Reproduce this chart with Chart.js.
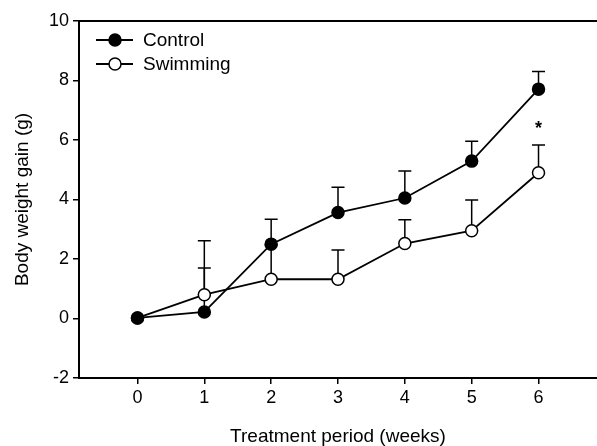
<!DOCTYPE html>
<html>
<head>
<meta charset="utf-8">
<script src="https://cdn.jsdelivr.net/npm/chart.js@4/dist/chart.umd.min.js"></script>
<style>
  html, body { margin: 0; padding: 0; background: #fff; overflow: hidden; }
</style>
</head>
<body>
<canvas id="grafico" width="597" height="446"></canvas>
<script>
// values
const weeks = [0, 1, 2, 3, 4, 5, 6];
const controlMean = [0.02, 0.22, 2.50, 3.56, 4.05, 5.29, 7.71];
const controlSem  = [0, 2.39, 0.84, 0.85, 0.91, 0.67, 0.59];
const swimMean = [0.02, 0.80, 1.32, 1.32, 2.52, 2.95, 4.90];
const swimSem  = [0, 0.90, 1.15, 0.98, 0.80, 1.03, 0.93];
const yTicks = [-2, 0, 2, 4, 6, 8, 10];
const signif = [{ week: 6, y: 6.5, text: '*' }];

const fontFam = '"Liberation Sans", Arial, sans-serif';

const pts = (xs, ys) => xs.map((x, i) => ({ x: x, y: ys[i] }));

// upper error bars, legend box, frame line and the asterisk
const extras = {
    id: 'extras',
    beforeDatasetsDraw(chart) {
        const ctx = chart.ctx;
        const sx = chart.scales.x, sy = chart.scales.y;
        const groups = [[swimMean, swimSem], [controlMean, controlSem]];
        ctx.save();
        ctx.strokeStyle = '#000';
        ctx.lineWidth = 1.5;
        groups.forEach(([m, e]) => {
            weeks.forEach((w, i) => {
                if (!e[i]) return;
                const px = sx.getPixelForValue(w);
                const y0 = sy.getPixelForValue(m[i]);
                const y1 = sy.getPixelForValue(m[i] + e[i]);
                ctx.beginPath();
                ctx.moveTo(px, y0);
                ctx.lineTo(px, y1);
                ctx.moveTo(px - 6.5, y1);
                ctx.lineTo(px + 6.5, y1);
                ctx.stroke();
            });
        });
        // top frame line
        const a = chart.chartArea;
        ctx.lineWidth = 2;
        ctx.beginPath();
        ctx.moveTo(a.left, a.top);
        ctx.lineTo(a.right, a.top);
        ctx.stroke();
        ctx.restore();
    },
    afterDatasetsDraw(chart) {
        const ctx = chart.ctx;
        const sx = chart.scales.x, sy = chart.scales.y;
        ctx.save();
        ctx.fillStyle = '#000';
        ctx.font = 'bold 18px ' + fontFam;
        ctx.textAlign = 'center';
        ctx.textBaseline = 'middle';
        signif.forEach(s => {
            ctx.fillText(s.text, sx.getPixelForValue(s.week), sy.getPixelForValue(s.y) + 4);
        });
        // legend
        const rows = [
            { label: 'Control', fill: '#000', y: 40 },
            { label: 'Swimming', fill: '#fff', y: 64 }
        ];
        ctx.font = '19px ' + fontFam;
        ctx.textAlign = 'left';
        rows.forEach(r => {
            ctx.strokeStyle = '#000';
            ctx.lineWidth = 1.8;
            ctx.beginPath();
            ctx.moveTo(96, r.y);
            ctx.lineTo(133, r.y);
            ctx.stroke();
            ctx.beginPath();
            ctx.arc(115, r.y, 6, 0, Math.PI * 2);
            ctx.fillStyle = r.fill;
            ctx.fill();
            ctx.lineWidth = 1.5;
            ctx.stroke();
            ctx.fillStyle = '#000';
            ctx.fillText(r.label, 143, r.y + 1);
        });
        ctx.restore();
    }
};

const ctx = document.getElementById('grafico').getContext('2d');
const grafico = new Chart(ctx, {
    type: 'line',
    data: {
        datasets: [{
            label: 'Control',
            data: pts(weeks, controlMean),
            borderColor: '#000',
            borderWidth: 1.8,
            backgroundColor: '#000',
            pointBackgroundColor: '#000',
            pointBorderColor: '#000',
            pointBorderWidth: 1.5,
            pointRadius: 6,
            tension: 0
        },
        {
            label: 'Swimming',
            data: pts(weeks, swimMean),
            borderColor: '#000',
            borderWidth: 1.8,
            backgroundColor: '#fff',
            pointBackgroundColor: '#fff',
            pointBorderColor: '#000',
            pointBorderWidth: 1.5,
            pointRadius: 6,
            tension: 0
        }]
    },
    options: {
        responsive: false,
        animation: false,
        layout: { autoPadding: false, padding: { top: 21, right: 0, left: 0, bottom: 0 } },
        plugins: {
            legend: { display: false },
            tooltip: { enabled: false }
        },
        scales: {
            x: {
                type: 'linear',
                min: -0.875,
                max: 6.875,
                afterBuildTicks: s => { s.ticks = weeks.map(v => ({ value: v })); },
                afterFit: s => { s.height = 68; s.paddingLeft = 0; s.paddingRight = 0; },
                grid: { drawOnChartArea: false, drawTicks: true, tickLength: 6, color: '#000', lineWidth: 1.5 },
                border: { display: true, color: '#000', width: 2 },
                ticks: { color: '#000', padding: 3, font: { family: fontFam, size: 18 } },
                title: {
                    display: true,
                    text: 'Treatment period (weeks)',
                    color: '#000',
                    padding: 0,
                    font: { family: fontFam, size: 19, lineHeight: 1 }
                }
            },
            y: {
                min: -2,
                max: 10,
                afterBuildTicks: s => { s.ticks = yTicks.map(v => ({ value: v })); },
                afterFit: s => { s.width = 79; },
                grid: { drawOnChartArea: false, drawTicks: true, tickLength: 6, color: '#000', lineWidth: 1.5 },
                border: { display: true, color: '#000', width: 2 },
                ticks: { color: '#000', padding: 4, font: { family: fontFam, size: 18 } },
                title: {
                    display: true,
                    text: 'Body weight gain (g)',
                    color: '#000',
                    padding: { top: 11, bottom: 0 },
                    font: { family: fontFam, size: 19 }
                }
            }
        }
    },
    plugins: [extras]
});
</script>
</body>
</html>
